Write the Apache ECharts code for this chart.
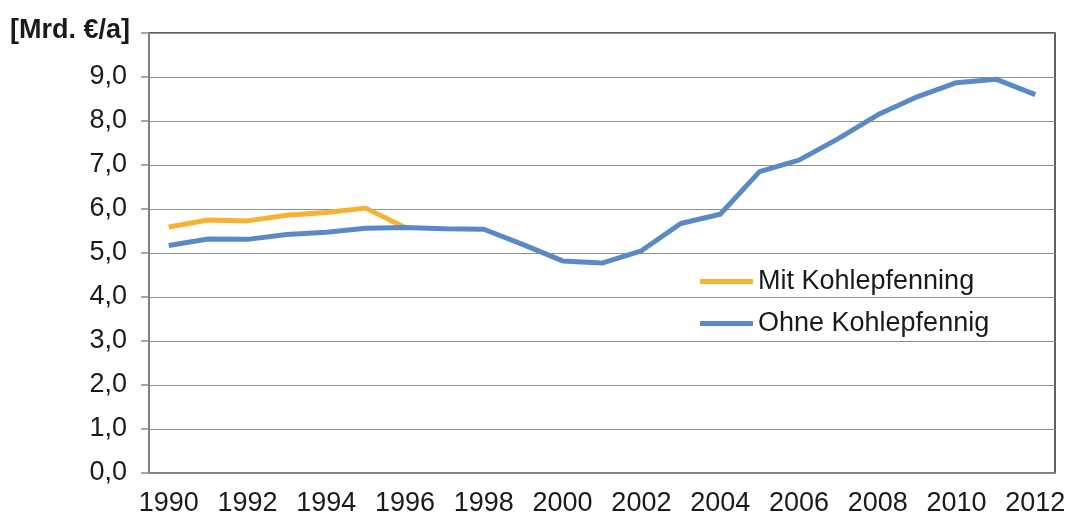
<!DOCTYPE html>
<html>
<head>
<meta charset="utf-8">
<script src="https://cdn.jsdelivr.net/npm/echarts@6/dist/echarts.min.js"></script>
<style>
  html, body { margin: 0; padding: 0; background: #fff; }
  #chart { width: 1069px; height: 520px; }
</style>
</head>
<body>
<div id="chart"></div>
<script>
// Jahre
const years = ['1990', '1991', '1992', '1993', '1994', '1995', '1996', '1997', '1998', '1999', '2000',
  '2001', '2002', '2003', '2004', '2005', '2006', '2007', '2008', '2009', '2010', '2011', '2012'];
// Mit Kohlepfennig (nur bis 1996 getrennt sichtbar)
const mitKohle = [5.59, 5.75, 5.73, 5.86, 5.92, 6.02, 5.58, null, null, null, null,
  null, null, null, null, null, null, null, null, null, null, null, null];
// Ohne Kohlepfennig
const ohneKohle = [5.17, 5.32, 5.31, 5.42, 5.47, 5.56, 5.58, 5.55, 5.54, 5.19, 4.82,
  4.77, 5.05, 5.67, 5.88, 6.85, 7.11, 7.6, 8.14, 8.55, 8.87, 8.95, 8.6];
const seriesNames = ['Mit Kohlepfenning', 'Ohne Kohlepfennig'];

const font = '"Liberation Sans", Arial, sans-serif';
const myChart = echarts.init(document.getElementById('chart'));

const option = {
  animation: false,
  backgroundColor: '#fff',
  title: {
    text: '[Mrd. €/a]',
    left: 10,
    top: 17,
    padding: 0,
    textStyle: { fontFamily: font, fontSize: 27, fontWeight: 'bold', color: '#1a1a1a' },
  },
  legend: {
    orient: 'vertical',
    left: 700,
    top: 268,
    padding: 0,
    icon: 'rect',
    itemWidth: 53,
    itemHeight: 5,
    itemGap: 15,
    data: seriesNames,
    textStyle: { fontFamily: font, fontSize: 27, color: '#1a1a1a' },
  },
  grid: {
    left: 149,
    right: 14,
    top: 33,
    bottom: 47,
    show: true,
    borderColor: '#2b2b2b',
    borderWidth: 1.5,
  },
  xAxis: {
    type: 'category',
    data: years,
    boundaryGap: true,
    axisLine: { lineStyle: { color: '#8a8a8a', width: 1.5 } },
    axisTick: { interval: 0, length: 8, lineStyle: { color: '#8a8a8a', width: 1.5 } },
    axisLabel: { interval: 1, margin: 17, fontFamily: font, fontSize: 27, color: '#1a1a1a' },
  },
  yAxis: {
    type: 'value',
    min: 0,
    max: 10,
    interval: 1,
    axisLine: { show: true, lineStyle: { color: '#8a8a8a', width: 1.5 } },
    axisTick: { show: true, length: 8, lineStyle: { color: '#8a8a8a', width: 1.5 } },
    splitLine: { lineStyle: { color: '#8f8f8f', width: 1.2 } },
    axisLabel: {
      margin: 22,
      fontFamily: font,
      fontSize: 27,
      color: '#1a1a1a',
      formatter: (v) => (v === 10 ? '' : v.toFixed(1).replace('.', ',')),
    },
  },
  series: [
    {
      name: seriesNames[0],
      type: 'line',
      data: mitKohle,
      symbol: 'none',
      z: 2,
      lineStyle: { color: '#f6b233', width: 5 },
      itemStyle: { color: '#f6b233' },
    },
    {
      name: seriesNames[1],
      type: 'line',
      data: ohneKohle,
      symbol: 'none',
      z: 3,
      lineStyle: { color: '#5a8ac6', width: 5 },
      itemStyle: { color: '#5a8ac6' },
    },
  ],
};
myChart.setOption(option);
</script>
</body>
</html>
